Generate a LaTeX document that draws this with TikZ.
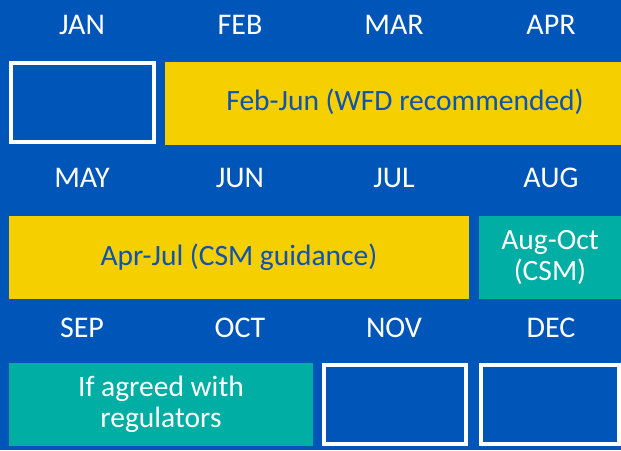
\documentclass[tikz,border=0pt]{standalone}
\usepackage{fontspec}
\setmainfont{Carlito}
\usetikzlibrary{positioning}

\definecolor{bgblue}{RGB}{0,86,184}
\definecolor{wfdyellow}{RGB}{245,207,0}
\definecolor{csmteal}{RGB}{0,174,163}
\definecolor{txtblue}{RGB}{16,82,176}

\begin{document}
\begin{tikzpicture}[x=1pt, y=1pt]
    \tikzstyle{month} = [text=white, font=\fontsize{30}{34}\selectfont, inner sep=0pt]
    \tikzstyle{window} = [rectangle, inner sep=0pt, minimum height=83pt, align=center, font=\fontsize{29.5}{31}\selectfont]
    \tikzstyle{recommended} = [window, fill=wfdyellow, text=txtblue]
    \tikzstyle{permitted} = [window, fill=csmteal, text=white]
    \tikzstyle{closed} = [rectangle, inner sep=0pt, minimum height=79pt, draw=white, line width=4pt, fill=bgblue]

    % background
    \fill [bgblue] (0,0) rectangle (621,-450);
    \useasboundingbox (0,0) rectangle (621,-450);

    % first row
    \node (jan) [month] at (82,-25) {JAN};
    \node (feb) [month] at (240,-25) {FEB};
    \node (mar) [month] at (394,-25) {MAR};
    \node (apr) [month] at (551,-25) {APR};

    \node (janbox) [closed, minimum width=143pt] at (82.5,-102.5) {};
    \node (febjun) [recommended, minimum width=456pt,
        label={[xshift=12pt, yshift=2pt, text=txtblue, font=\fontsize{29.5}{31}\selectfont]center:Feb-Jun (WFD recommended)}] at (393,-103.5) {};

    % second row
    \node (may) [month] at (82,-178) {MAY};
    \node (jun) [month] at (240,-178) {JUN};
    \node (jul) [month] at (394,-178) {JUL};
    \node (aug) [month] at (551,-178) {AUG};

    \node (aprjul) [recommended, minimum width=460pt] at (239,-257.5) {Apr-Jul (CSM guidance)};
    \node (augoct) [permitted, minimum width=142pt] at (550,-257.5) {Aug-Oct\\(CSM)};

    % third row
    \node (sep) [month] at (82,-328) {SEP};
    \node (oct) [month] at (240,-328) {OCT};
    \node (nov) [month] at (394,-328) {NOV};
    \node (dec) [month] at (551,-328) {DEC};

    \node (agreed) [permitted, minimum width=304pt] at (161,-404.5) {If agreed with\\regulators};
    \node (novbox) [closed, minimum width=142pt] at (395,-404.5) {};
    \node (decbox) [closed, minimum width=138pt] at (550,-404.5) {};

\end{tikzpicture}
\end{document}
